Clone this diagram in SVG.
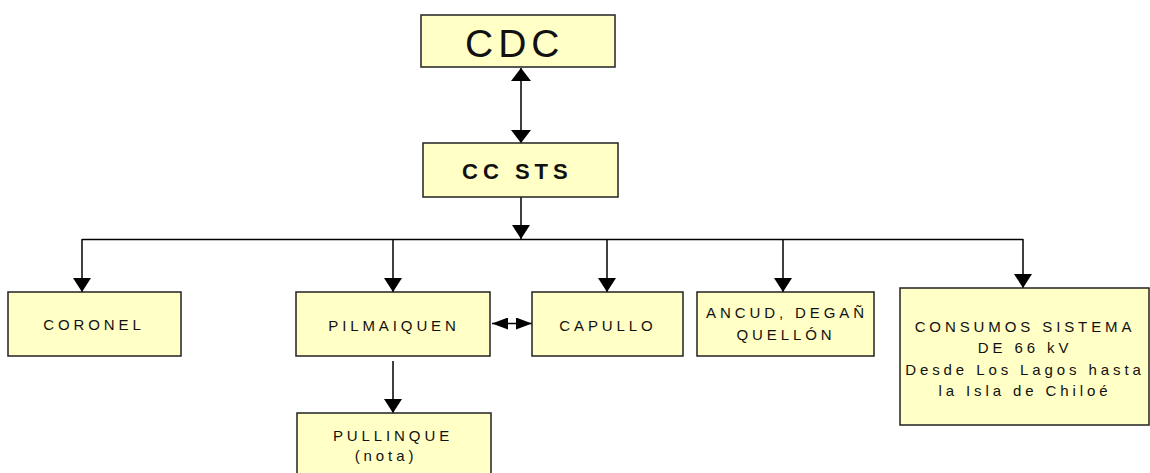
<svg xmlns="http://www.w3.org/2000/svg" width="1150" height="473" viewBox="0 0 1150 473">
<style>
.box{fill:#ffffc6;stroke:#222;stroke-width:1.5}
.t{font-family:"Liberation Sans",Arial,sans-serif;font-size:15px;letter-spacing:3.9px;fill:#111;text-anchor:middle}
.c{stroke:#000;stroke-width:1.5;fill:none}
</style>
<defs>
<marker id="a" viewBox="0 0 14 18" refX="14" refY="9" markerWidth="14" markerHeight="18" markerUnits="userSpaceOnUse" orient="auto-start-reverse"><path d="M0,0 L14,9 L0,18 z" fill="#000"/></marker>
<marker id="b" viewBox="0 0 13 20" refX="13" refY="10" markerWidth="13" markerHeight="20" markerUnits="userSpaceOnUse" orient="auto-start-reverse"><path d="M0,0 L13,10 L0,20 z" fill="#000"/></marker>
<marker id="h" viewBox="0 0 16 12" refX="16" refY="6" markerWidth="16" markerHeight="12" markerUnits="userSpaceOnUse" orient="auto-start-reverse"><path d="M0,0 L16,6 L0,12 z" fill="#000"/></marker>
</defs>
<rect width="1150" height="473" fill="#fff"/>
<g id="connectors">
<line class="c" x1="521" y1="68" x2="521" y2="143" marker-start="url(#b)" marker-end="url(#b)"/>
<line class="c" x1="521" y1="197" x2="521" y2="239" marker-end="url(#a)"/>
<line class="c" x1="82" y1="239.5" x2="1023" y2="239.5"/>
<line class="c" x1="82" y1="239" x2="82" y2="292" marker-end="url(#a)"/>
<line class="c" x1="393" y1="239" x2="393" y2="292" marker-end="url(#a)"/>
<line class="c" x1="607" y1="239" x2="607" y2="292" marker-end="url(#a)"/>
<line class="c" x1="783" y1="239" x2="783" y2="292" marker-end="url(#a)"/>
<line class="c" x1="1023" y1="239" x2="1023" y2="288" marker-end="url(#a)"/>
<line class="c" x1="393" y1="361" x2="393" y2="413" marker-end="url(#a)"/>
<line class="c" x1="492" y1="323.5" x2="532" y2="323.5" marker-start="url(#h)" marker-end="url(#h)"/>
</g>
<g id="cdc">
<rect class="box" x="421" y="15" width="194" height="52"/>
<text x="465" y="57" style="font-family:'Liberation Sans',Arial,sans-serif;font-size:39px;letter-spacing:5px;fill:#111">CDC</text>
</g>
<g id="ccsts">
<rect class="box" x="423" y="143" width="195" height="54"/>
<text x="462" y="179" style="font-family:'Liberation Sans',Arial,sans-serif;font-size:22px;font-weight:bold;letter-spacing:5px;fill:#111">CC STS</text>
</g>
<g id="coronel">
<rect class="box" x="8" y="292" width="173" height="64"/>
<text class="t" x="94" y="330">CORONEL</text>
</g>
<g id="pilmaiquen">
<rect class="box" x="296" y="292" width="194" height="64"/>
<text class="t" x="394" y="331">PILMAIQUEN</text>
</g>
<g id="pullinque">
<rect class="box" x="297" y="413" width="194" height="72"/>
<text class="t" x="393" y="441">PULLINQUE</text>
<text class="t" x="386" y="461">(nota)</text>
</g>
<g id="capullo">
<rect class="box" x="532" y="292" width="151" height="64"/>
<text class="t" x="608" y="331">CAPULLO</text>
</g>
<g id="ancud">
<rect class="box" x="697" y="292" width="177" height="64"/>
<text class="t" x="787" y="318">ANCUD, DEGAÑ</text>
<text class="t" x="786" y="340">QUELLÓN</text>
</g>
<g id="consumos">
<rect class="box" x="900" y="288" width="249" height="137"/>
<text class="t" x="1025" y="332">CONSUMOS SISTEMA</text>
<text class="t" x="1025" y="353">DE 66 kV</text>
<text class="t" x="1025" y="375">Desde Los Lagos hasta</text>
<text class="t" x="1025" y="396">la Isla de Chiloé</text>
</g>
</svg>
